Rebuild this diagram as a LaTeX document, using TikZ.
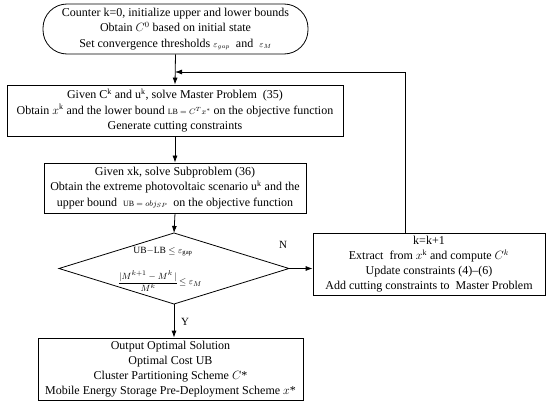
\documentclass[tikz,border=0pt]{standalone}
\usepackage{amsmath}
\usepackage{fontspec}
\setmainfont{Liberation Serif}
\usetikzlibrary{arrows.meta}
\begin{document}
\begin{tikzpicture}[x=1pt,y=-1pt,
  every node/.style={font=\fontsize{12}{15.5}\selectfont, align=center, inner sep=0pt},
  tight/.style={font=\fontsize{12}{14.8}\selectfont},
  box/.style={draw, line width=0.8pt, rectangle},
  startbox/.style={box, rounded corners=24pt},
  conn/.style={line width=0.8pt, -{Latex[length=7pt,width=5pt]}},
  plain/.style={line width=0.8pt},
  lbl/.style={font=\fontsize{11}{13}\selectfont}
]
\useasboundingbox (0,0) rectangle (550,404);

\node[startbox, minimum width=265pt, minimum height=50pt] (start) at (175.5,29)
 {Counter k=0, initialize upper and lower bounds\\
  Obtain $C^0$ based on initial state\\
  Set convergence thresholds {\small$\varepsilon_{gap}$}\ \ and \ {\small$\varepsilon_M$}};

\node[box, minimum width=336pt, minimum height=51pt] (master) at (175,110.5)
 {Given C\textsuperscript{k} and u\textsuperscript{k}, solve Master Problem\ \ (35)\\
  Obtain $x^{\mathrm{k}}$ and the lower bound {\footnotesize LB $= C^T x^*$} on the objective function\\
  Generate cutting constraints};

\node[box, minimum width=262pt, minimum height=50pt] (sub) at (175,188)
 {Given xk, solve Subproblem (36)\\
  Obtain the extreme photovoltaic scenario u\textsuperscript{k} and the\\
  upper bound\ \ {\footnotesize UB $= obj_{SP}$}\ \ on the objective function};

% decision diamond
\coordinate (dtop) at (174,233);
\coordinate (dright) at (289,268.5);
\coordinate (dbottom) at (174,304);
\coordinate (dleft) at (59,268.5);
\draw[plain] (dtop) -- (dright) -- (dbottom) -- (dleft) -- cycle;
\node[font=\fontsize{9.5}{11}\selectfont] (c1) at (163,252) {UB$-$LB $\le \varepsilon_{\mathrm{gap}}$};
\node[font=\fontsize{9.5}{11}\selectfont] (c2) at (160,281) {$\dfrac{|M^{k+1}-M^k\,|}{M^k}\!\le \varepsilon_M$};

\node[box, tight, minimum width=232pt, minimum height=62pt] (update) at (429,264)
 {k=k+1\\
  Extract\ \ from $x^{\mathrm{k}}$ and compute $C^k$\\
  Update constraints (4)--(6)\\
  Add cutting constraints to\ \ Master Problem};

\node[box, tight, minimum width=265pt, minimum height=62pt] (out) at (170.5,369)
 {Output Optimal Solution\\
  Optimal Cost UB\\
  Cluster Partitioning Scheme $C$*\\
  Mobile Energy Storage Pre-Deployment Scheme $x$*};

\coordinate (fb) at (405,72);
\coordinate (fbin) at (175,72);

\draw[conn] (start.south) -- (master.north);
\draw[conn] (master.south) -- (sub.north);
\draw[conn] (sub.south) -- (dtop);
\draw[conn] (dright) -- (update.west |- dright);
\draw[conn] (dbottom) -- (out.north -| dbottom);
\draw[conn] (update.north -| fb) -- (fb) -- (fbin);

\node[lbl] (nlab) at (283,245) {N};
\node[lbl] (ylab) at (185,322) {Y};
\end{tikzpicture}
\end{document}
